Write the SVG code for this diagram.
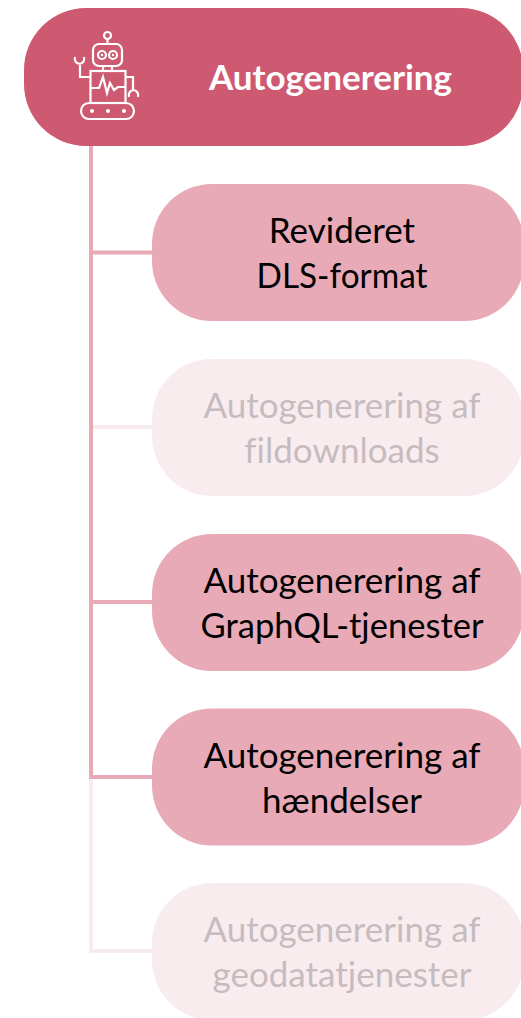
<svg xmlns="http://www.w3.org/2000/svg" width="521" height="1018" viewBox="0 0 521 1018">
<style>
text{font-family:Lato,"Liberation Sans",sans-serif;font-size:35px;text-anchor:middle;font-variant-ligatures:none}
.a{fill:#e8aab7}.f{fill:#f9ecef}
.ta{fill:#000}.tf{fill:#c6bcbf}
.c{fill:none;stroke-width:4}
.i{fill:none;stroke:#fff;stroke-width:2.200}
.d{fill:#fff}
</style>
<g id="connectors">
<path class="c" stroke="#f9ecef" d="M91 779V951H152"/>
<path class="c" stroke="#f9ecef" d="M91 427H152"/>
<path class="c" stroke="#e8aab7" d="M91 146V777H152M91 252.500H152M91 602H152"/>
</g>
<g id="root">
<rect x="24" y="8" width="499" height="138" rx="62" fill="#ce5a72"/>
<g id="robot">
<circle class="i" cx="107.500" cy="35.500" r="3.500"/>
<path class="i" d="M107.500 39V44"/>
<rect class="i" x="93" y="44" width="29" height="22" rx="6"/>
<circle class="i" cx="102" cy="55" r="4"/><circle class="i" cx="113" cy="55" r="4"/>
<circle class="d" cx="102" cy="55" r="1.200"/><circle class="d" cx="113" cy="55" r="1.200"/>
<path class="i" d="M103 66V71M112 66V71"/>
<rect class="i" x="90.500" y="71" width="35" height="32"/>
<path class="i" d="M90.500 88H99L103 77L107 93L110 83L114 90L118 87H125.500"/>
<path class="i" d="M90.500 77H80V65"/>
<path class="i" d="M75 57C73 66 86 66 84 57"/>
<path class="i" d="M125.500 77H133V90"/>
<path class="i" d="M129 97C127 88 140 88 138 97"/>
<rect class="i" x="81" y="103" width="53" height="16" rx="8"/>
<circle class="d" cx="92" cy="111" r="2"/><circle class="d" cx="108" cy="111" r="2"/><circle class="d" cx="124" cy="111" r="2"/>
</g>
<text x="330.500" y="90" fill="#fff" font-weight="700">Autogenerering</text>
</g>
<g id="n1"><rect class="a" x="152" y="184" width="372" height="137" rx="60"/>
<text class="ta" x="342" y="243">Revideret</text><text class="ta" x="342" y="288" textLength="171" lengthAdjust="spacingAndGlyphs">DLS-format</text></g>
<g id="n2"><rect class="f" x="152" y="359" width="372" height="137" rx="60"/>
<text class="tf" x="342" y="418">Autogenerering af</text><text class="tf" x="342" y="463">fildownloads</text></g>
<g id="n3"><rect class="a" x="152" y="534" width="372" height="137" rx="60"/>
<text class="ta" x="342" y="593">Autogenerering af</text><text class="ta" x="342" y="638" textLength="283" lengthAdjust="spacingAndGlyphs">GraphQL-tjenester</text></g>
<g id="n4"><rect class="a" x="152" y="708.500" width="372" height="137" rx="60"/>
<text class="ta" x="342" y="768">Autogenerering af</text><text class="ta" x="342" y="813">hændelser</text></g>
<g id="n5"><rect class="f" x="152" y="883" width="372" height="137" rx="60"/>
<text class="tf" x="342" y="942">Autogenerering af</text><text class="tf" x="342" y="987">geodatatjenester</text></g>
</svg>
